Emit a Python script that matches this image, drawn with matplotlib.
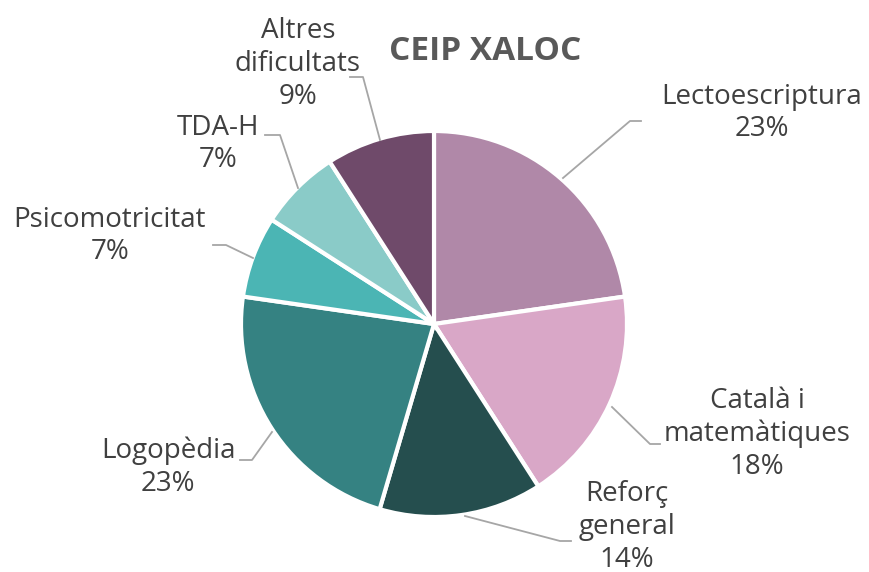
import numpy as np
import matplotlib.pyplot as plt

plt.rcParams['font.family'] = ['Open Sans', 'DejaVu Sans']

# number of pupils per type of support
categories = ['Lectoescriptura', 'Català i\nmatemàtiques', 'Reforç\ngeneral',
              'Logopèdia', 'Psicomotricitat', 'TDA-H', 'Altres\ndificultats']
counts = [10, 8, 6, 10, 3, 3, 4]
colors = ['#B088A8', '#D9A7C7', '#254E4E', '#358282', '#4BB5B4', '#8ACBC8', '#6F4A6A']

# label layout in pixel coords (x, y from top), leader line points
label_pos = [(762, 113), (757, 434), (627, 527), (168, 467), (110, 236), (218, 144), (298, 64)]
leaders = [
    [(563, 178), (630, 121), (641, 121)],
    [(612, 407), (650, 444), (660, 444)],
    [(465, 516), (560, 541), (571, 541)],
    [(272, 432), (252, 460), (240, 460)],
    [(253, 258), (226, 245), (213, 245)],
    [(298, 188), (280, 135), (265, 135)],
    [(380, 140), (363, 77), (350, 77)],
]

W, H = 869, 572
fig = plt.figure(figsize=(W / 100, H / 100), dpi=100)
ax = fig.add_axes([0, 0, 1, 1])
ax.set_xlim(0, W)
ax.set_ylim(0, H)
ax.set_aspect('equal')
ax.axis('off')

ax.pie(counts, colors=colors, startangle=90, counterclock=False,
       center=(434, H - 324), radius=193,
       wedgeprops=dict(edgecolor='white', linewidth=3))
ax.set_xlim(0, W)
ax.set_ylim(0, H)

total = sum(counts)
for name, c, (x, y), pts in zip(categories, counts, label_pos, leaders):
    pct = round(100 * c / total)
    ax.text(x, H - y, f'{name}\n{pct}%', ha='center', va='center',
            fontsize=20, color='#404040', linespacing=1.22)
    xs = [p[0] for p in pts]
    ys = [H - p[1] for p in pts]
    ax.plot(xs, ys, color='#A6A6A6', linewidth=1.3)

ax.text(485, H - 52, 'CEIP XALOC', ha='center', va='center',
        fontsize=24, fontweight='bold', color='#595959')

fig.savefig('out.png', dpi=100)
